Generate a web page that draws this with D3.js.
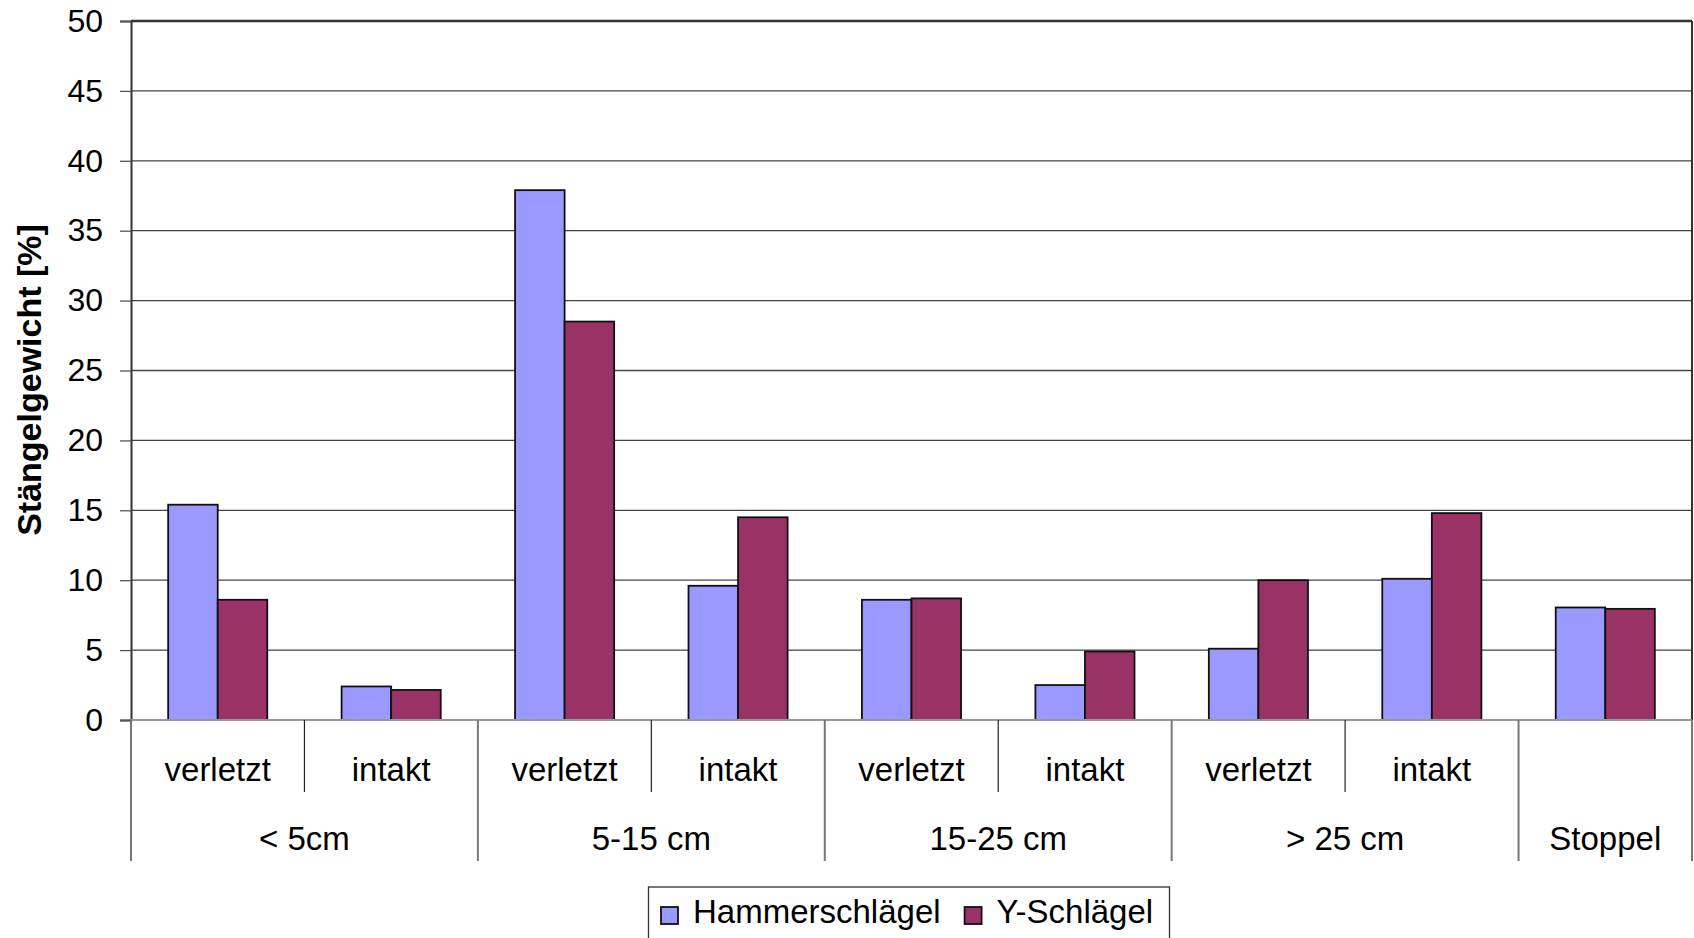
<!DOCTYPE html>
<html>
<head>
<meta charset="utf-8">
<script src="https://cdn.jsdelivr.net/npm/d3@7"></script>
<style>
  html, body { margin: 0; padding: 0; background: #fff; }
  svg { display: block; font-family: "Liberation Sans", Arial, sans-serif; }
</style>
</head>
<body>
<svg id="chart" width="1694" height="938"></svg>
<script>
// ---- data ----
const groups = ["< 5cm", "5-15 cm", "15-25 cm", "> 25 cm", "Stoppel"];
const groupSizes = [2, 2, 2, 2, 1];
const subLabels = ["verletzt", "intakt", "verletzt", "intakt", "verletzt", "intakt", "verletzt", "intakt", ""];
const seriesNames = ["Hammerschlägel", "Y-Schlägel"];
const hammer = [15.4, 2.4, 37.9, 9.6, 8.6, 2.5, 5.1, 10.1, 8.05];
const yschl = [8.6, 2.15, 28.5, 14.5, 8.7, 4.9, 10.0, 14.8, 7.95];
const yTicks = [0, 5, 10, 15, 20, 25, 30, 35, 40, 45, 50];
const colors = ["#9999FF", "#993366"];

// ---- layout ----
const svg = d3.select("#chart");
const L = 131, R = 1692, T = 21, B = 720;
const fontSize = 33;

const y = d3.scaleLinear().domain([0, 50]).range([B, T]);
const idx = d3.range(subLabels.length);
const x = d3.scaleBand().domain(idx).range([L, R]).padding(0);
const bw = x.bandwidth();
const barW = bw / 3.5;
const xs = d3.scaleBand().domain([0, 1]).range([0.75 * barW, 0.75 * barW + 2 * barW]).padding(0);

// gridlines
svg.append("g").selectAll("line").data(yTicks.filter(d => d > 0)).join("line")
  .attr("x1", L).attr("x2", R)
  .attr("y1", d => y(d)).attr("y2", d => y(d))
  .attr("stroke", d => d === 50 ? "#333" : "#444")
  .attr("stroke-width", d => d === 50 ? 2.5 : 1.3);

// right border
svg.append("line").attr("x1", R).attr("x2", R).attr("y1", T).attr("y2", B)
  .attr("stroke", "#333").attr("stroke-width", 2);

// y axis
const yAxis = d3.axisLeft(y).tickValues(yTicks).tickSize(11).tickPadding(17);
const ya = svg.append("g").attr("transform", `translate(${L},0)`).call(yAxis);
ya.select(".domain").attr("stroke", "#333").attr("stroke-width", 2);
ya.selectAll(".tick line").attr("stroke", "#555").attr("stroke-width", 1.3);
ya.selectAll(".tick text").attr("font-size", 32).attr("fill", "#000")
  .attr("font-family", "'Liberation Sans', Arial, sans-serif");

// bars
const data = idx.map(i => [hammer[i], yschl[i]]);
const gBars = svg.append("g");
idx.forEach(i => {
  data[i].forEach((v, s) => {
    gBars.append("rect")
      .attr("x", x(i) + xs(s))
      .attr("y", y(v))
      .attr("width", xs.bandwidth())
      .attr("height", y(0) - y(v))
      .attr("fill", colors[s])
      .attr("stroke", "#111")
      .attr("stroke-width", 1.8);
  });
});

// zero line
svg.append("line").attr("x1", L).attr("x2", R).attr("y1", B).attr("y2", B)
  .attr("stroke", "#999").attr("stroke-width", 2);

// category axis: boundaries
const groupStarts = [];
let acc = 0;
groupSizes.forEach(n => { groupStarts.push(acc); acc += n; });
const groupBoundaries = groupStarts.concat([acc]);
const boundaryPos = d3.range(subLabels.length + 1).map(i => i < subLabels.length ? x(i) : R);

svg.append("g").selectAll("line").data(d3.range(subLabels.length + 1)).join("line")
  .attr("x1", i => boundaryPos[i]).attr("x2", i => boundaryPos[i])
  .attr("y1", B).attr("y2", i => groupBoundaries.includes(i) ? 861 : 792)
  .attr("stroke", i => groupBoundaries.includes(i) ? "#777" : "#222")
  .attr("stroke-width", i => groupBoundaries.includes(i) ? 2 : 1.2);

// sub labels
svg.append("g").selectAll("text").data(idx).join("text")
  .attr("x", i => x(i) + bw / 2).attr("y", 781)
  .attr("text-anchor", "middle").attr("font-size", fontSize).attr("fill", "#000")
  .text(i => subLabels[i]);

// group labels
svg.append("g").selectAll("text").data(groups).join("text")
  .attr("x", (g, k) => (boundaryPos[groupBoundaries[k]] + boundaryPos[groupBoundaries[k + 1]]) / 2)
  .attr("y", 850)
  .attr("text-anchor", "middle").attr("font-size", fontSize).attr("fill", "#000")
  .text(g => g);

// y title
svg.append("text")
  .attr("transform", "translate(29,380) rotate(-90)")
  .attr("text-anchor", "middle").attr("dy", "0.35em")
  .attr("font-size", 34).attr("font-weight", "bold").attr("fill", "#000")
  .text("Stängelgewicht [%]");

// legend
const lg = svg.append("g");
lg.append("rect").attr("x", 648.5).attr("y", 887).attr("width", 521).attr("height", 70)
  .attr("fill", "#fff").attr("stroke", "#333").attr("stroke-width", 1.3);
let lx = 661;
seriesNames.forEach((name, s) => {
  lg.append("rect").attr("x", lx).attr("y", 907).attr("width", 17).attr("height", 17)
    .attr("fill", colors[s]).attr("stroke", "#111").attr("stroke-width", 1.8);
  const t = lg.append("text").attr("x", lx + 32).attr("y", 923)
    .attr("font-size", fontSize).attr("fill", "#000").text(name);
  lx = lx + 32 + t.node().getComputedTextLength() + 24;
});
</script>
</body>
</html>
